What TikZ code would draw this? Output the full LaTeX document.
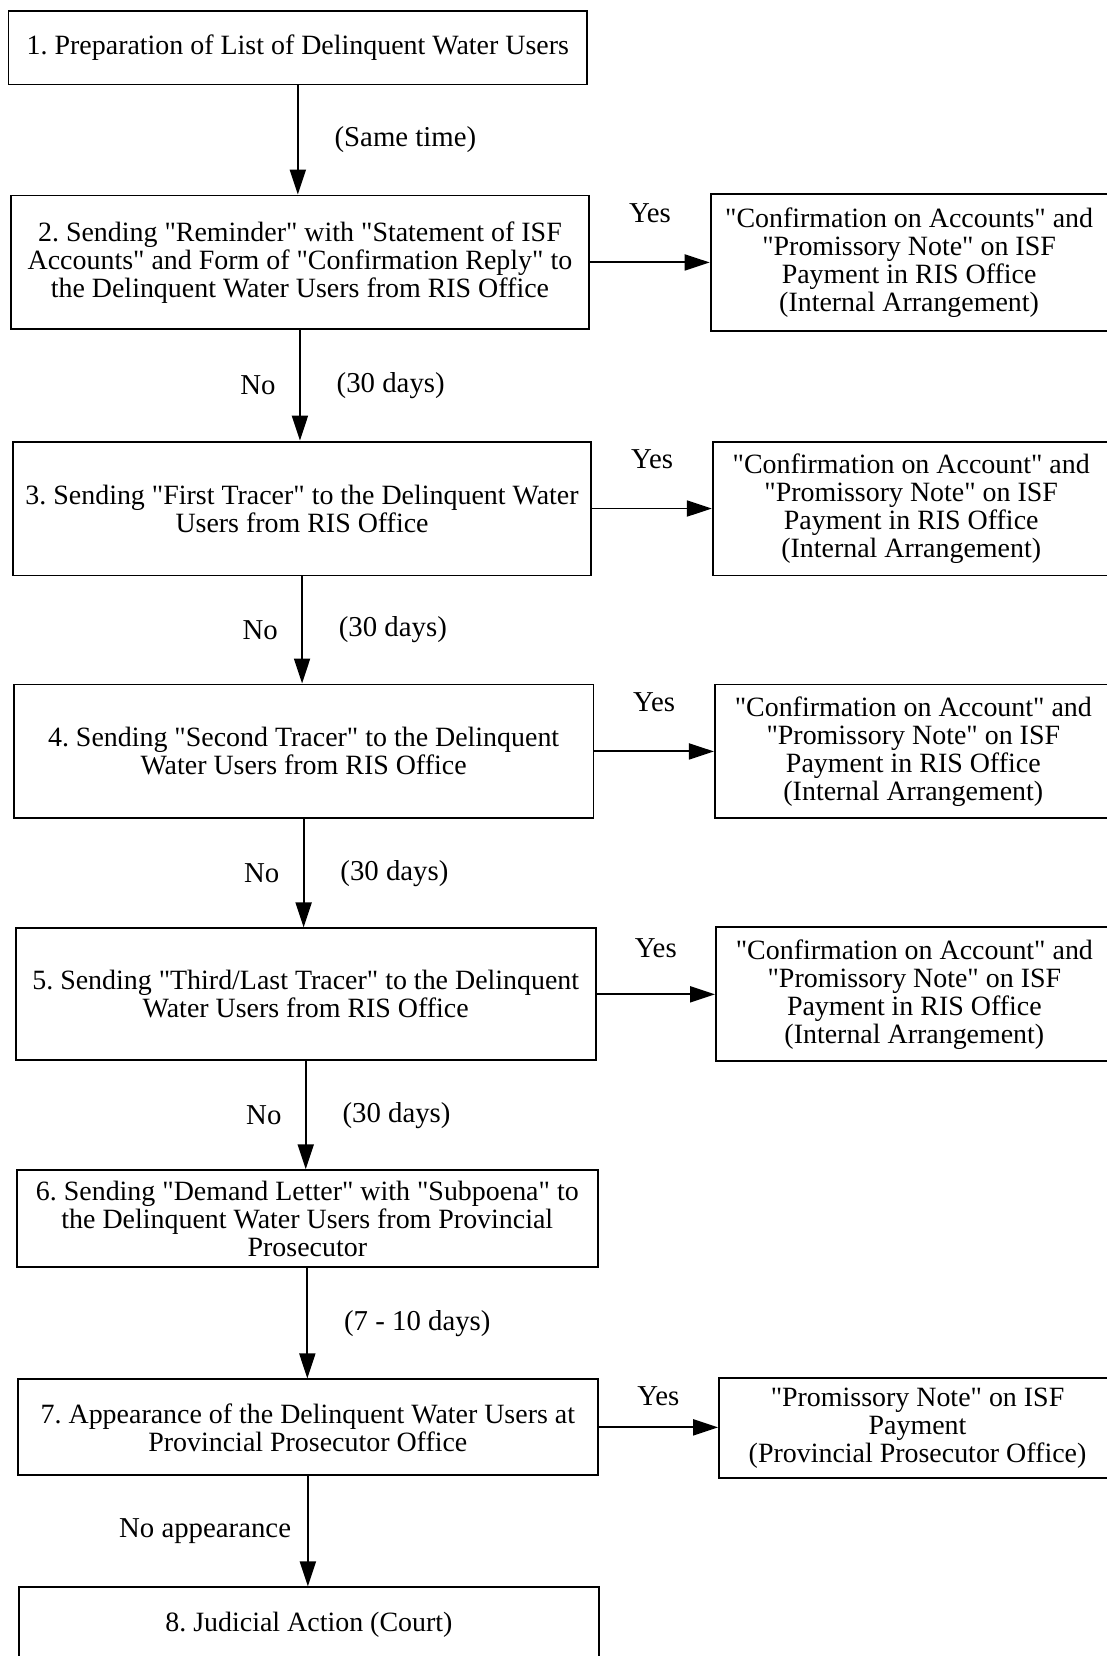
\documentclass[tikz,border=0pt]{standalone}
\usepackage{fontspec}
\setmainfont{Liberation Serif}
\usetikzlibrary{arrows.meta}
\newcommand\dq{\textquotedbl}
\frenchspacing

\begin{document}
\begin{tikzpicture}[x=0.021126cm, y=-0.021126cm,
    box/.style={draw, line width=1.1pt, align=center, inner sep=2pt, font=\fontsize{15.9}{16}\selectfont},
    note/.style={box, anchor=west, minimum width=7.94cm},
    arr/.style={line width=1.1pt, -{Triangle[length=0.5cm, width=0.32cm]}},
    lbl/.style={font=\fontsize{16.4}{17}\selectfont}]
    \useasboundingbox (0,0) rectangle (1048,1568);

    % main steps
    \node[box, minimum width=11.58cm, minimum height=1.48cm] (s1) at (282,45) {1. Preparation of List of Delinquent Water Users};
    \node[box, minimum width=11.58cm, minimum height=2.68cm] (s2) at (284,248.5) {2. Sending \dq Reminder\dq{} with \dq Statement of ISF\\Accounts\dq{} and Form of \dq Confirmation Reply\dq{} to\\the Delinquent Water Users from RIS Office};
    \node[box, minimum width=11.58cm, minimum height=2.68cm] (s3) at (286,481.5) {3. Sending \dq First Tracer\dq{} to the Delinquent Water\\Users from RIS Office};
    \node[box, minimum width=11.6cm, minimum height=2.68cm] (s4) at (287.5,711.5) {4. Sending \dq Second Tracer\dq{} to the Delinquent\\Water Users from RIS Office};
    \node[box, minimum width=11.6cm, minimum height=2.64cm] (s5) at (289.5,941.5) {5. Sending \dq Third/Last Tracer\dq{} to the Delinquent\\Water Users from RIS Office};
    \node[box, minimum width=11.62cm, minimum height=1.94cm] (s6) at (291,1154) {6. Sending \dq Demand Letter\dq{} with \dq Subpoena\dq{} to\\the Delinquent Water Users from Provincial\\Prosecutor};
    \node[box, minimum width=11.6cm, minimum height=1.92cm] (s7) at (291.5,1351.5) {7. Appearance of the Delinquent Water Users at\\Provincial Prosecutor Office};
    \node[box, minimum width=11.6cm, minimum height=1.48cm] (s8) at (292.5,1538) {8. Judicial Action (Court)};

    % side results
    \node[note, minimum height=2.73cm] (r2) at (672,248.5) {\dq Confirmation on Accounts\dq{} and\\\dq Promissory Note\dq{} on ISF\\Payment in RIS Office\\(Internal Arrangement)};
    \node[note, minimum height=2.68cm] (r3) at (674,481.5) {\dq Confirmation on Account\dq{} and\\\dq Promissory Note\dq{} on ISF\\Payment in RIS Office\\(Internal Arrangement)};
    \node[note, minimum height=2.68cm] (r4) at (676,711.5) {\dq Confirmation on Account\dq{} and\\\dq Promissory Note\dq{} on ISF\\Payment in RIS Office\\(Internal Arrangement)};
    \node[note, minimum height=2.68cm] (r5) at (677,941.5) {\dq Confirmation on Account\dq{} and\\\dq Promissory Note\dq{} on ISF\\Payment in RIS Office\\(Internal Arrangement)};
    \node[note, minimum height=2.0cm] (r7) at (680,1352.5) {\dq Promissory Note\dq{} on ISF\\Payment\\(Provincial Prosecutor Office)};

    % flow down
    \draw[arr] (s1.south) -- (s1.south |- s2.north) node[midway, right=0.6cm, lbl] {(Same time)};
    \draw[arr] (s2.south) -- (s2.south |- s3.north) node[midway, right=0.6cm, lbl] {(30 days)} node[midway, left=0.35cm, lbl] {No};
    \draw[arr] (s3.south) -- (s3.south |- s4.north) node[midway, right=0.6cm, lbl] {(30 days)} node[midway, left=0.35cm, lbl] {No};
    \draw[arr] (s4.south) -- (s4.south |- s5.north) node[midway, right=0.6cm, lbl] {(30 days)} node[midway, left=0.35cm, lbl] {No};
    \draw[arr] (s5.south) -- (s5.south |- s6.north) node[midway, right=0.6cm, lbl] {(30 days)} node[midway, left=0.35cm, lbl] {No};
    \draw[arr] (s6.south) -- (s6.south |- s7.north) node[midway, right=0.6cm, lbl] {(7 - 10 days)};
    \draw[arr] (s7.south) -- (s7.south |- s8.north) node[midway, left=0.2cm, lbl] {No appearance};

    % yes branches
    \draw[arr] (s2.east) -- (s2.east -| r2.west) node[midway, above=0.65cm, lbl] {Yes};
    \draw[arr] (s3.east) -- (s3.east -| r3.west) node[midway, above=0.65cm, lbl] {Yes};
    \draw[arr] (s4.east) -- (s4.east -| r4.west) node[midway, above=0.65cm, lbl] {Yes};
    \draw[arr] (s5.east) -- (s5.east -| r5.west) node[midway, above=0.6cm, lbl] {Yes};
    \draw[arr] (s7.east) -- (s7.east -| r7.west) node[midway, above=0.3cm, lbl] {Yes};
\end{tikzpicture}
\end{document}
